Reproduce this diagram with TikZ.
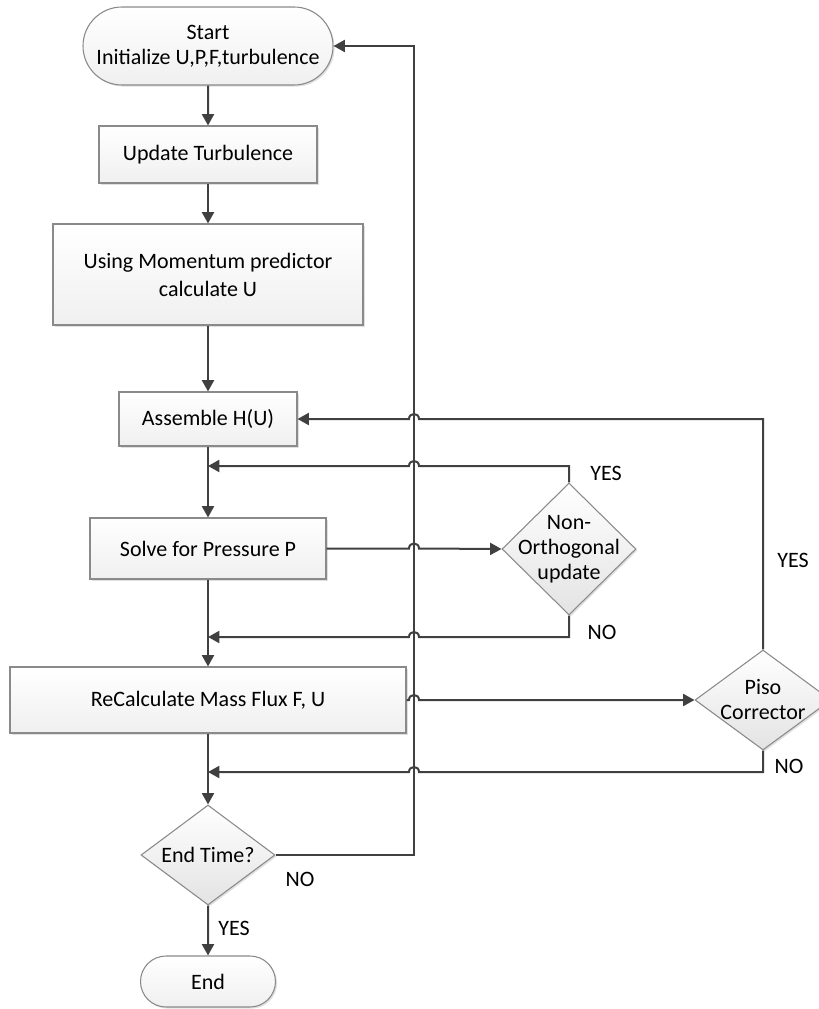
\documentclass[tikz,border=0pt]{standalone}
\usepackage{fontspec}
\setmainfont{Carlito}
\usetikzlibrary{calc,shapes.geometric,shapes.misc,arrows.meta,positioning,shadows}

\definecolor{linegray}{HTML}{404040}
\definecolor{edgegray}{HTML}{8A8A8A}

\begin{document}
\begin{tikzpicture}[
  x=0.75pt, y=-0.75pt,
  every node/.style={font=\fontsize{16.5}{18.75}\selectfont, text=black},
  box/.style={rectangle, draw=edgegray, line width=0.8pt, top color=white, bottom color=black!6,
    align=center, inner sep=0pt, drop shadow={shadow xshift=1.2pt, shadow yshift=-1.2pt, opacity=0.12, fill=black}},
  term/.style={rounded rectangle, draw=edgegray, line width=0.8pt, top color=white, bottom color=black!6,
    align=center, inner sep=0pt, drop shadow={shadow xshift=1.2pt, shadow yshift=-1.2pt, opacity=0.12, fill=black}},
  decide/.style={diamond, draw=edgegray, line width=0.8pt, top color=white, bottom color=black!11,
    inner sep=0pt, drop shadow={shadow xshift=1.2pt, shadow yshift=-1.2pt, opacity=0.12, fill=black}},
  lbl/.style={inner sep=0pt},
  flow/.style={draw=linegray, line width=1.5pt},
  arrow/.style={flow, -{Triangle[length=8.5pt, width=9pt]}}
]
  \useasboundingbox (0,0) rectangle (818,1009);

  % main column
  \node[term, minimum width=187.5pt, minimum height=58.5pt] (start) at (208,46) {Start\\Initialize U,P,F,turbulence};
  \node[box, minimum width=163.5pt, minimum height=42.75pt] (turb) at (208,154.5) {Update Turbulence};
  \node[box, minimum width=232.5pt, minimum height=75.75pt, font=\fontsize{16.5}{21}\selectfont] (mom) at (208,274.5) {Using Momentum predictor\\calculate U};
  \node[box, minimum width=133.5pt, minimum height=40.5pt] (hu) at (208,419) {Assemble H(U)};
  \node[box, minimum width=177pt, minimum height=45.75pt] (press) at (208,548.5) {Solve for Pressure P};
  \node[box, minimum width=297pt, minimum height=49.5pt] (flux) at (208,700) {ReCalculate Mass Flux F, U};
  \node[decide, minimum width=100.5pt, minimum height=75pt,
        label={[lbl]center:End Time?}] (endtime) at (208,855) {};
  \node[term, minimum width=101.25pt, minimum height=38.25pt] (stop) at (208,981.5) {End};

  % decisions on the right
  \node[decide, minimum width=100.5pt, minimum height=99pt,
        label={[lbl, align=center]center:Non-\\Orthogonal\\update}] (nonorth) at (569,549) {};
  \node[decide, minimum width=102pt, minimum height=75pt,
        label={[lbl, align=center]center:Piso\\Corrector}] (piso) at (763,700) {};

  % junctions on the trunk
  \coordinate (jnonyes) at (208,466);
  \coordinate (jnonno) at (208,637);
  \coordinate (jpisono) at (208,772);

  % trunk
  \draw[arrow] (start) -- (turb);
  \draw[arrow] (turb) -- (mom);
  \draw[arrow] (mom) -- (hu);
  \draw[arrow] (hu) -- (press);
  \draw[arrow] (press) -- (flux);
  \draw[arrow] (flux) -- (endtime);
  \draw[arrow] (endtime) -- (stop);

  % time loop
  \draw[arrow] (endtime.east) -- (414,855) |- (start.east);

  % loops with hops over the time loop
  \draw[arrow] (nonorth.north) |- (419,466) .. controls (419,459.3) and (409,459.3) .. (409,466) -- (jnonyes);
  \draw[arrow] (press.east) -- (409,548.5) .. controls (409,541.8) and (419,541.8) .. (419,548.5) -- (nonorth.west);
  \draw[arrow] (nonorth.south) |- (419,637) .. controls (419,630.3) and (409,630.3) .. (409,637) -- (jnonno);
  \draw[arrow] (piso.north) |- (419,419) .. controls (419,412.3) and (409,412.3) .. (409,419) -- (hu.east);
  \draw[arrow] (flux.east) -- (409,700) .. controls (409,693.3) and (419,693.3) .. (419,700) -- (piso.west);
  \draw[arrow] (piso.south) |- (419,772) .. controls (419,765.3) and (409,765.3) .. (409,772) -- (jpisono);

  % branch labels
  \node[lbl] (nonyes) at (606,473) {YES};
  \node[lbl] (nonno) at (602,632) {NO};
  \node[lbl] (pisoyes) at (793,560) {YES};
  \node[lbl] (pisono) at (789,766) {NO};
  \node[lbl] (endno) at (300,879) {NO};
  \node[lbl] (endyes) at (234,928) {YES};
\end{tikzpicture}
\end{document}
